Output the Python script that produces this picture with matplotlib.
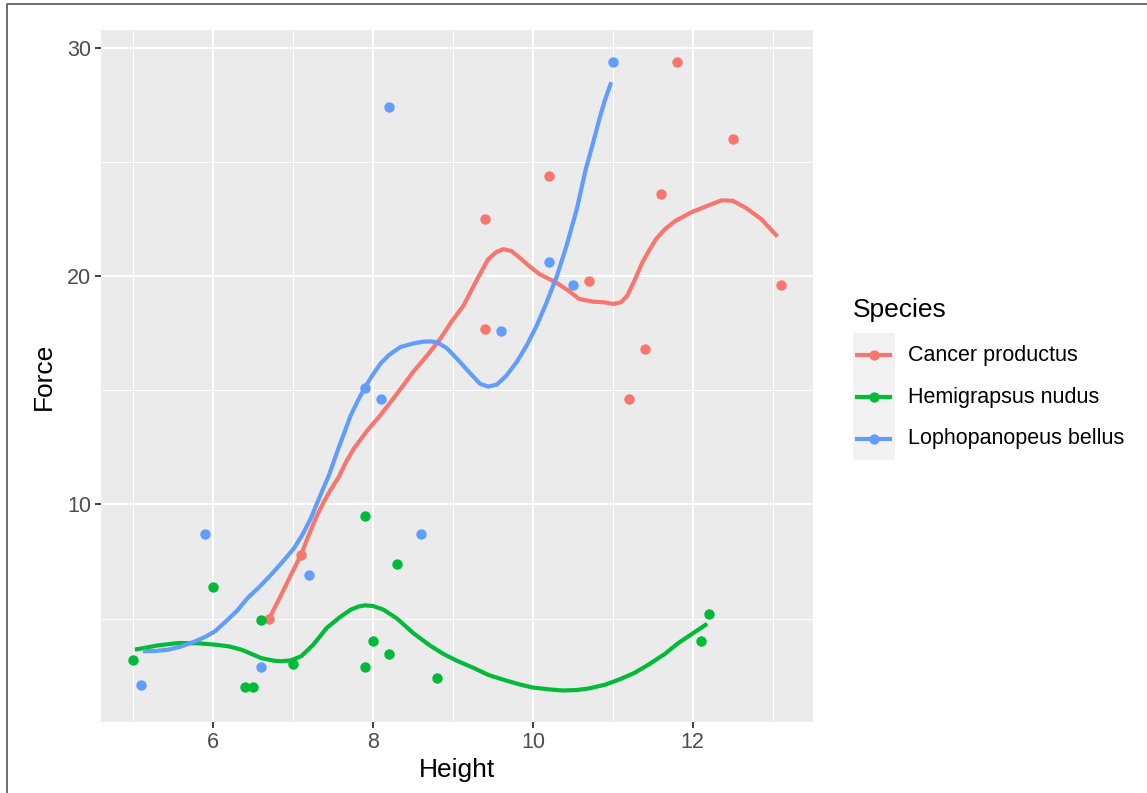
import matplotlib
matplotlib.use('Agg')
import matplotlib.pyplot as plt
from matplotlib.lines import Line2D
from matplotlib.patches import Rectangle

plt.rcParams['font.family'] = ['Liberation Sans', 'DejaVu Sans']

species = ['Cancer productus', 'Hemigrapsus nudus', 'Lophopanopeus bellus']
colors = ['#F8766D', '#00BA38', '#619CFF']

# points
cancer_h = [6.7, 7.1, 9.4, 9.4, 10.2, 10.7, 11.2, 11.4, 11.6, 11.8, 12.5, 13.1]
cancer_f = [5.0, 7.8, 22.5, 17.7, 24.4, 19.8, 14.6, 16.8, 23.6, 29.4, 26.0, 19.6]
hemi_h = [5.0, 6.0, 6.4, 6.5, 6.6, 7.0, 7.9, 7.9, 8.0, 8.2, 8.3, 8.8, 12.1, 12.2]
hemi_f = [3.2, 6.4, 2.0, 2.0, 4.95, 3.0, 9.5, 2.9, 4.0, 3.45, 7.4, 2.4, 4.0, 5.2]
loph_h = [5.1, 5.9, 6.6, 7.2, 7.9, 8.1, 8.2, 8.6, 9.6, 10.2, 10.5, 11.0]
loph_f = [2.1, 8.7, 2.9, 6.9, 15.1, 14.6, 27.4, 8.7, 17.6, 20.6, 19.6, 29.4]

# smooth curves
cancer_sx = [6.7, 6.83, 6.97, 7.1, 7.2, 7.3, 7.385, 7.47, 7.57, 7.66, 7.76, 7.93, 8.09,
             8.3, 8.5, 8.67, 8.84, 8.98, 9.13, 9.3, 9.44, 9.54, 9.63, 9.73, 9.83, 9.95,
             10.08, 10.29, 10.45, 10.58, 10.75, 10.9, 11.0, 11.1, 11.18, 11.27, 11.37,
             11.45, 11.54, 11.65, 11.78, 11.99, 12.2, 12.36, 12.5, 12.66, 12.86, 13.06]
cancer_sy = [5.0, 5.9, 6.9, 7.82, 8.7, 9.53, 10.12, 10.65, 11.2, 11.85, 12.45, 13.25, 13.9,
             14.85, 15.8, 16.5, 17.25, 18.0, 18.7, 19.85, 20.74, 21.05, 21.18, 21.1, 20.82,
             20.45, 20.09, 19.72, 19.35, 19.0, 18.88, 18.85, 18.78, 18.85, 19.14, 19.8,
             20.6, 21.1, 21.62, 22.05, 22.41, 22.81, 23.1, 23.32, 23.3, 23.0, 22.49, 21.73]
hemi_sx = [5.02, 5.3, 5.56, 5.8, 6.02, 6.2, 6.35, 6.5, 6.6, 6.75, 6.85, 6.97, 7.1, 7.25,
           7.42, 7.58, 7.72, 7.82, 7.9, 8.0, 8.13, 8.3, 8.5, 8.7, 8.88, 9.05, 9.25, 9.45,
           9.67, 9.85, 10.0, 10.2, 10.37, 10.55, 10.7, 10.9, 11.08, 11.27, 11.45, 11.65,
           11.82, 12.0, 12.18]
hemi_sy = [3.64, 3.82, 3.93, 3.92, 3.86, 3.78, 3.64, 3.42, 3.27, 3.16, 3.13, 3.17, 3.35,
           3.85, 4.59, 5.05, 5.39, 5.53, 5.58, 5.55, 5.39, 5.0, 4.37, 3.85, 3.45, 3.15, 2.85,
           2.52, 2.28, 2.1, 1.98, 1.9, 1.85, 1.87, 1.94, 2.1, 2.33, 2.62, 2.99, 3.45, 3.93,
           4.35, 4.77]
loph_sx = [5.12, 5.28, 5.44, 5.6, 5.77, 5.9, 6.02, 6.15, 6.3, 6.43, 6.58, 6.72, 6.87,
           7.01, 7.12, 7.22, 7.34, 7.45, 7.55, 7.64, 7.72, 7.81, 7.9, 8.0, 8.09, 8.2,
           8.34, 8.5, 8.63, 8.72, 8.8, 8.92, 9.05, 9.2, 9.34, 9.44, 9.55, 9.67, 9.8, 9.92,
           10.05, 10.17, 10.3, 10.42, 10.55, 10.66, 10.75, 10.83, 10.9, 10.98]
loph_sy = [3.57, 3.58, 3.64, 3.78, 4.0, 4.2, 4.44, 4.85, 5.35, 5.9, 6.4, 6.91, 7.5, 8.08,
           8.7, 9.39, 10.4, 11.3, 12.3, 13.15, 13.9, 14.55, 15.14, 15.7, 16.16, 16.55,
           16.89, 17.05, 17.13, 17.14, 17.1, 16.85, 16.38, 15.8, 15.28, 15.16, 15.25,
           15.65, 16.25, 16.95, 17.85, 18.84, 20.0, 21.32, 22.95, 24.67, 25.8, 26.86,
           27.7, 28.49]

xs = [cancer_h, hemi_h, loph_h]
ys = [cancer_f, hemi_f, loph_f]
sxs = [cancer_sx, hemi_sx, loph_sx]
sys_ = [cancer_sy, hemi_sy, loph_sy]

W, H = 1147, 793
fig = plt.figure(figsize=(W / 100, H / 100), dpi=100)
ax = fig.add_axes([101 / W, 1 - 722 / H, 712 / W, 692 / H])
ax.set_facecolor('#EBEBEB')

for i in range(3):
    ax.scatter(xs[i], ys[i], s=56, color=colors[i], zorder=3, linewidths=0)
    ax.plot(sxs[i], sys_[i], color=colors[i], lw=3.0, zorder=4, solid_capstyle='butt',
            solid_joinstyle='round')

ax.set_xlim(4.595, 13.505)
ax.set_ylim(0.47, 30.78)
ax.set_xticks([6, 8, 10, 12])
ax.set_yticks([10, 20, 30])
ax.set_xticks([5, 7, 9, 11, 13], minor=True)
ax.set_yticks([5, 15, 25], minor=True)
ax.grid(which='major', color='white', lw=1.5)
ax.grid(which='minor', color='white', lw=0.75)
ax.set_axisbelow(True)
for sp in ax.spines.values():
    sp.set_visible(False)
ax.tick_params(which='major', length=4, width=1.3, color='#333333', labelsize=15.5,
               labelcolor='#4D4D4D', pad=3)
ax.tick_params(which='minor', length=0)
ax.set_xlabel('Height', fontsize=19, labelpad=4)
ax.set_ylabel('Force', fontsize=19, labelpad=8)

# legend drawn by hand in the ggplot way
fig.text(853 / W, 1 - 310 / H, 'Species', fontsize=19, va='center', ha='left')
fig.add_artist(Rectangle((853 / W, 1 - 460 / H), 42 / W, 127 / H,
                         transform=fig.transFigure, color='#F2F2F2', lw=0))
rows = [355, 397, 439]
for i in range(3):
    yy = 1 - rows[i] / H
    fig.add_artist(Line2D([857 / W, 890 / W], [yy, yy], color=colors[i], lw=3.0,
                          transform=fig.transFigure))
    fig.add_artist(Line2D([873.5 / W], [yy], color=colors[i], marker='o', ms=7.4,
                          mew=0, transform=fig.transFigure))
    fig.text(908 / W, yy, species[i], fontsize=15.5, va='center', ha='left')

# frame around the picture
fig.add_artist(Line2D([7 / W, 7 / W, 1.01], [-0.01, 1 - 4 / H, 1 - 4 / H],
                      color='#555555', lw=1.2, transform=fig.transFigure))

fig.savefig('out.png', dpi=100)
